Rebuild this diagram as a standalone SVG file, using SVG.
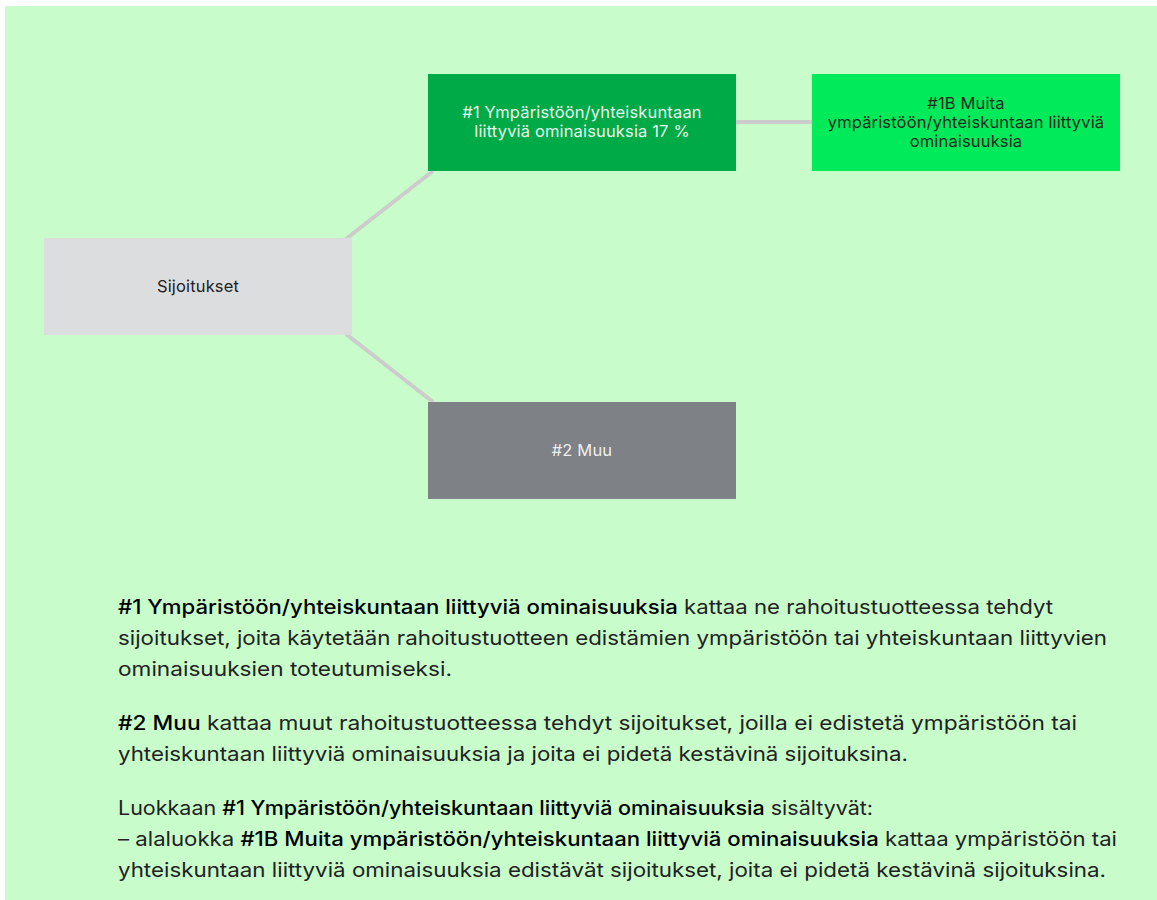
<svg xmlns="http://www.w3.org/2000/svg" width="1157" height="900" viewBox="0 0 1157 900">
<style>
.box-text{font-family:Inter,Roboto,"Liberation Sans",sans-serif;font-size:16.5px;text-anchor:middle;letter-spacing:0.15px}
.body{font-family:Inter,Roboto,"Liberation Sans",sans-serif;font-size:19.5px;fill:#222}
.b{font-weight:500;fill:#000}
.conn{stroke:#cccccc;stroke-width:4;fill:none}
</style>
<rect x="0" y="0" width="1157" height="900" fill="#ffffff"/>
<rect x="5" y="6" width="1152" height="894" fill="#c8fcca"/>
<g id="connectors">
<line class="conn" x1="346" y1="239" x2="433" y2="171"/>
<line class="conn" x1="346" y1="334" x2="433" y2="402"/>
<line class="conn" x1="736" y1="122" x2="812" y2="122"/>
</g>
<g id="node-sijoitukset">
<rect x="44" y="238" width="308" height="97" fill="#dcdddf"/>
<text class="box-text" x="198" y="292" fill="#222">Sijoitukset</text>
</g>
<g id="node-1">
<rect x="428" y="74" width="308" height="97" fill="#00aa47"/>
<text class="box-text" fill="#e8f5ec"><tspan x="582" y="118">#1 Ympäristöön/yhteiskuntaan</tspan><tspan x="582" y="137">liittyviä ominaisuuksia 17 %</tspan></text>
</g>
<g id="node-1b">
<rect x="812" y="74" width="308" height="97" fill="#00ea5a"/>
<text class="box-text" fill="#1a2a1e"><tspan x="966" y="109">#1B Muita</tspan><tspan x="966" y="128">ympäristöön/yhteiskuntaan liittyviä</tspan><tspan x="966" y="147">ominaisuuksia</tspan></text>
</g>
<g id="node-2">
<rect x="428" y="402" width="308" height="97" fill="#7e8185"/>
<text class="box-text" x="582" y="456" fill="#eeeeee">#2 Muu</text>
</g>
<g id="legend">
<text class="body" x="118" y="614" textLength="935" lengthAdjust="spacingAndGlyphs"><tspan class="b">#1 Ympäristöön/yhteiskuntaan liittyviä ominaisuuksia</tspan> kattaa ne rahoitustuotteessa tehdyt</text>
<text class="body" x="118" y="645" textLength="989" lengthAdjust="spacingAndGlyphs">sijoitukset, joita käytetään rahoitustuotteen edistämien ympäristöön tai yhteiskuntaan liittyvien</text>
<text class="body" x="118" y="676" textLength="334" lengthAdjust="spacingAndGlyphs">ominaisuuksien toteutumiseksi.</text>
<text class="body" x="118" y="730" textLength="959" lengthAdjust="spacingAndGlyphs"><tspan class="b">#2 Muu</tspan> kattaa muut rahoitustuotteessa tehdyt sijoitukset, joilla ei edistetä ympäristöön tai</text>
<text class="body" x="118" y="761" textLength="790" lengthAdjust="spacingAndGlyphs">yhteiskuntaan liittyviä ominaisuuksia ja joita ei pidetä kestävinä sijoituksina.</text>
<text class="body" x="118" y="815" textLength="755" lengthAdjust="spacingAndGlyphs">Luokkaan <tspan class="b">#1 Ympäristöön/yhteiskuntaan liittyviä ominaisuuksia</tspan> sisältyvät:</text>
<text class="body" x="118" y="846" textLength="999" lengthAdjust="spacingAndGlyphs">– alaluokka <tspan class="b">#1B Muita ympäristöön/yhteiskuntaan liittyviä ominaisuuksia</tspan> kattaa ympäristöön tai</text>
<text class="body" x="118" y="877" textLength="988" lengthAdjust="spacingAndGlyphs">yhteiskuntaan liittyviä ominaisuuksia edistävät sijoitukset, joita ei pidetä kestävinä sijoituksina.</text>
</g>
</svg>
